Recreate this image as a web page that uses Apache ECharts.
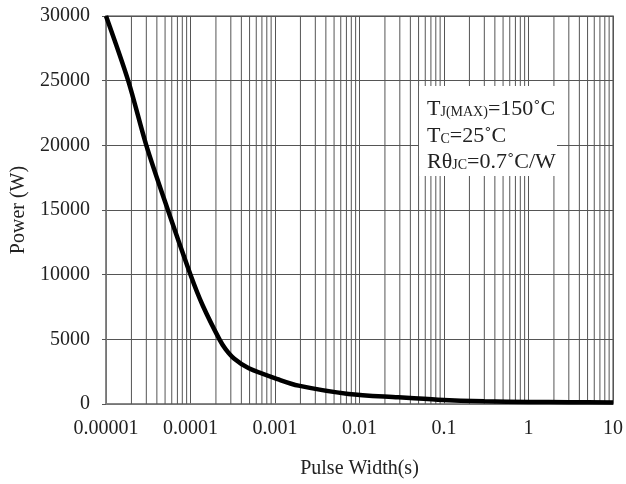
<!DOCTYPE html>
<html>
<head>
<meta charset="utf-8">
<script src="https://cdn.jsdelivr.net/npm/echarts@6/dist/echarts.min.js"></script>
<style>html,body{margin:0;padding:0;background:#fff}#c{width:626px;height:484px}</style>
</head>
<body>
<div id="c"></div>
<script>
// Data
const pulseWidth = [1e-5, 1.83e-5, 3.0e-5, 5.4e-5, 1.0e-4, 1.4e-4, 2.2e-4, 2.6e-4, 3.3e-4, 4.9e-4, 1.1e-3, 1.9e-3, 7.4e-3, 0.0288, 0.085, 0.3, 1, 3, 10];
const power      = [30000, 25000, 20000, 15000, 10000, 7600, 5000, 4250, 3500, 2760, 1900, 1418, 774, 516, 335, 210, 160, 135, 120];
const decades = [1e-5, 1e-4, 1e-3, 1e-2, 1e-1, 1];
const minorMultipliers = [2, 3, 4, 5, 6, 7, 8, 9];
const yTicks = [0, 5000, 10000, 15000, 20000, 25000, 30000];

const FONT = '"Liberation Serif", "DejaVu Serif", serif';
const GRIDC = '#555';

// vertical minor grid lines at 2..9 x each decade, drawn as broken line segments
const minorGrid = [];
decades.forEach(d => minorMultipliers.forEach(m => {
  const x = d * m;
  minorGrid.push([x, 0], [x, 30000], [x, '-']);
}));

function fmtLog(v) {
  const e = Math.round(Math.log10(v));
  return e < 0 ? Number(Math.pow(10, e)).toFixed(-e) : String(Math.round(Math.pow(10, e)));
}

const chart = echarts.init(document.getElementById('c'), null, { renderer: 'canvas' });
chart.setOption({
  animation: false,
  backgroundColor: '#fff',
  grid: { left: 106, right: 11, top: 16, bottom: 79, show: true, borderColor: '#808080', borderWidth: 1.5, containLabel: false },
  xAxis: {
    type: 'log', logBase: 10, min: 1e-5, max: 10,
    name: 'Pulse Width(s)', nameLocation: 'middle', nameGap: 55,
    nameTextStyle: { fontFamily: FONT, fontSize: 20, color: '#222' },
    axisLine: { show: true, lineStyle: { color: '#808080', width: 1.5 } },
    axisTick: { show: false },
    axisLabel: { fontFamily: FONT, fontSize: 20, color: '#222', margin: 15, formatter: fmtLog },
    splitLine: { show: true, lineStyle: { color: GRIDC, width: 1 } }
  },
  yAxis: {
    type: 'value', min: 0, max: 30000, interval: 5000,
    name: 'Power (W)', nameLocation: 'middle', nameGap: 76,
    nameTextStyle: { fontFamily: FONT, fontSize: 20, color: '#222' },
    axisLine: { show: true, lineStyle: { color: '#808080', width: 1.5 } },
    axisTick: { show: true, inside: false, length: 4, lineStyle: { color: GRIDC } },
    axisLabel: { fontFamily: FONT, fontSize: 20, color: '#222', margin: 16,
      formatter: v => yTicks.includes(v) ? String(v) : '' },
    splitLine: { show: true, lineStyle: { color: GRIDC, width: 1 } }
  },
  series: [{
    type: 'line',
    name: 'minorGrid',
    data: minorGrid,
    connectNulls: false,
    showSymbol: false, symbol: 'none', silent: true,
    lineStyle: { color: GRIDC, width: 1 },
    z: 1
  }, {
    type: 'line',
    data: pulseWidth.map((x, i) => [x, power[i]]),
    smooth: 0.3,
    showSymbol: false,
    symbol: 'none',
    lineStyle: { color: '#000', width: 4.5 },
    z: 5
  }],
  graphic: [
    { type: 'rect', z: 100, zlevel: 0, shape: { x: 419, y: 86, width: 138, height: 90 }, style: { fill: '#fff' } },
    { type: 'text', z: 101, zlevel: 0, x: 427, y: 94, style: {
        text: '{b|T}{s|J(MAX)}{b|=150˚C}\n{b|T}{s|C}{b|=25˚C}\n{b|Rθ}{s|JC}{b|=0.7˚C/W}',
        rich: {
          b: { fontFamily: FONT, fontSize: 22, fill: '#222', lineHeight: 26.5, verticalAlign: 'bottom' },
          s: { fontFamily: FONT, fontSize: 14, fill: '#222', lineHeight: 26.5, verticalAlign: 'bottom', padding: [0,0,1,0] }
        }
    } }
  ]
});
</script>
</body>
</html>
